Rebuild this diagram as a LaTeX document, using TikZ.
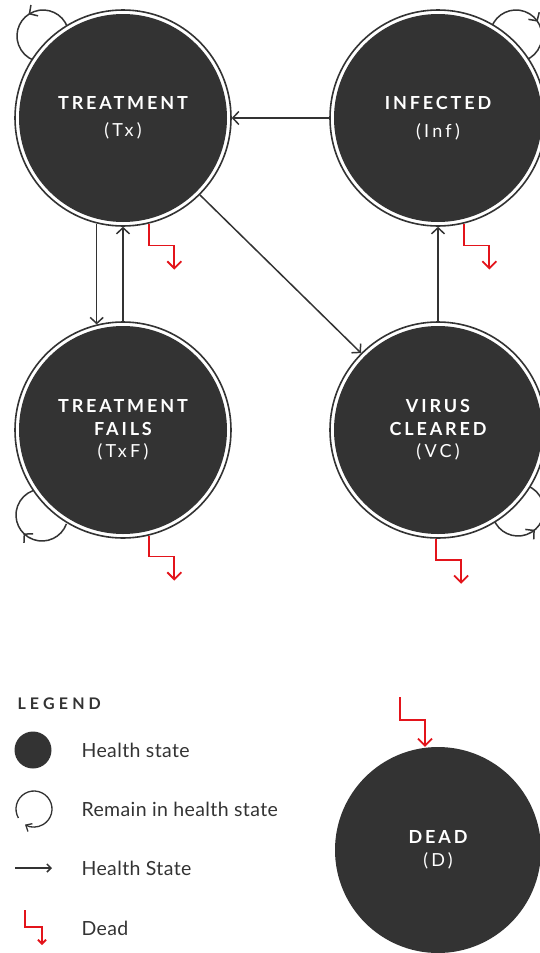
\documentclass[tikz,border=0pt]{standalone}
\usepackage{fontspec}
\setmainfont{Lato}
\newfontfamily\capsfont[LetterSpace=16]{Lato}
\newfontfamily\legcapsfont[LetterSpace=26]{Lato}
\newfontfamily\abbrfont[LetterSpace=18]{Lato}
\newfontfamily\legfont[LetterSpace=2]{Lato}
\usetikzlibrary{arrows.meta,calc,decorations.markings}
\definecolor{dark}{HTML}{333333}
\definecolor{deadred}{HTML}{E3141B}
\newcommand{\ttl}[1]{{\capsfont\bfseries\fontsize{18}{22}\selectfont #1}}
\newcommand{\abr}[1]{{\abbrfont\fontsize{18}{22}\selectfont #1}}
\tikzset{
  state/.style={circle, minimum size=216pt, inner sep=0pt, draw=dark, line width=1.6pt,
    fill=white, text=white, align=center, font=\fontsize{18}{22.5}\selectfont,
    path picture={\fill[dark] (path picture bounding box.center) circle[radius=104];}},
  deadstate/.style={circle, minimum size=206pt, inner sep=0pt, fill=dark, text=white, align=center,
    font=\fontsize{18}{23}\selectfont},
  conn/.style={draw=dark, line width=1.5pt, -{Straight Barb[length=6pt,width=13pt]}},
  deadarr/.style={draw=deadred, line width=1.8pt, -{Straight Barb[length=7pt,width=14pt]}},
  selfloop/.style={draw=dark, line width=1.5pt, postaction={decorate}},
  legtext/.style={anchor=west, text=dark, font=\legfont\fontsize{19.5}{22}\selectfont}
}
\begin{document}
\begin{tikzpicture}[x=1pt,y=-1pt]
\useasboundingbox (0,0) rectangle (540,953);

% self loops (drawn first, partly hidden under nodes)
\draw[selfloop, decoration={markings, mark=at position 0.45 with {\arrow{Straight Barb[length=6pt,width=13pt]}}}]
  (43,36) ++(-20:26) arc[start angle=-20, end angle=-250, radius=26];
\draw[selfloop, decoration={markings, mark=at position 0.55 with {\arrow{Straight Barb[length=6pt,width=13pt]}}}]
  (516,36) ++(200:26) arc[start angle=200, end angle=430, radius=26];
\draw[selfloop, decoration={markings, mark=at position 0.5 with {\arrow{Straight Barb[length=6pt,width=13pt]}}}]
  (42,515) ++(20:26) arc[start angle=20, end angle=250, radius=26];
\draw[selfloop, decoration={markings, mark=at position 0.48 with {\arrow{Straight Barb[length=6pt,width=13pt]}}}]
  (518,510) ++(160:26) arc[start angle=160, end angle=-70, radius=26];

% states
\node[state] (tx) at (123,118) {\ttl{TREATMENT}\\[5pt]\abr{(Tx)}};
\node[state] (inf) at (438,118) {\ttl{INFECTED}\\[5pt]\abr{(Inf)}};
\node[state] (txf) at (123,430) {\ttl{TREATMENT}\\\ttl{FAILS}\\\abr{(TxF)}};
\node[state] (vc) at (438,430) {\ttl{VIRUS}\\\ttl{CLEARED}\\\abr{(VC)}};
\node[deadstate] (dead) at (438,850) {\ttl{DEAD}\\\abr{(D)}};

% transitions
\draw[conn] (inf.west) -- (tx.east);
\draw[conn] (tx.-45) -- (vc.135);
\draw[conn] (tx.-104) -- (txf.104);
\draw[conn] (txf.north) -- (tx.south);
\draw[conn] (vc.north) -- (inf.south);

% death transitions
\draw[deadarr] (tx.-76) -- ++(0,22) -- ++(25,0) -- ++(0,24);
\draw[deadarr] (inf.-76) -- ++(0,22) -- ++(25,0) -- ++(0,24);
\draw[deadarr] (txf.-76) -- ++(0,21) -- ++(25,0) -- ++(0,24);
\draw[deadarr] (vc.-91) -- ++(0,21) -- ++(25,0) -- ++(0,24);
\coordinate (dstart) at (400,697);
\draw[deadarr] (dstart) -- ++(0,23) -- ++(25,0) -- (dead.north -| 425,0);

% legend
\node[anchor=west, text=dark, font=\legcapsfont\bfseries\fontsize{16}{18}\selectfont] (legtitle) at (14,704) {LEGEND};
\node[circle, fill=dark, minimum size=37pt, inner sep=0pt] (legstate) at (33,750) {};
\node[legtext] (legstatet) at (78,750) {Health state};
\coordinate (legloop) at (34,809);
\draw[dark, line width=1.3pt, -{Straight Barb[length=5pt,width=9pt]}]
  (legloop) ++(150:18) arc[start angle=150, end angle=480, radius=18];
\node[legtext] (legloopt) at (78,809) {Remain in health state};
\coordinate (legarrA) at (15,868);
\coordinate (legarrB) at (52,868);
\draw[conn, -{Straight Barb[length=4pt,width=8pt]}] (legarrA) -- (legarrB);
\node[legtext] (legarrt) at (78,868) {Health State};
\coordinate (legdead) at (25,910);
\draw[deadarr, -{Straight Barb[length=4pt,width=8pt]}] (legdead) -- ++(0,17) -- ++(17,0) -- ++(0,18);
\node[legtext] (legdeadt) at (78,928) {Dead};
\end{tikzpicture}
\end{document}
